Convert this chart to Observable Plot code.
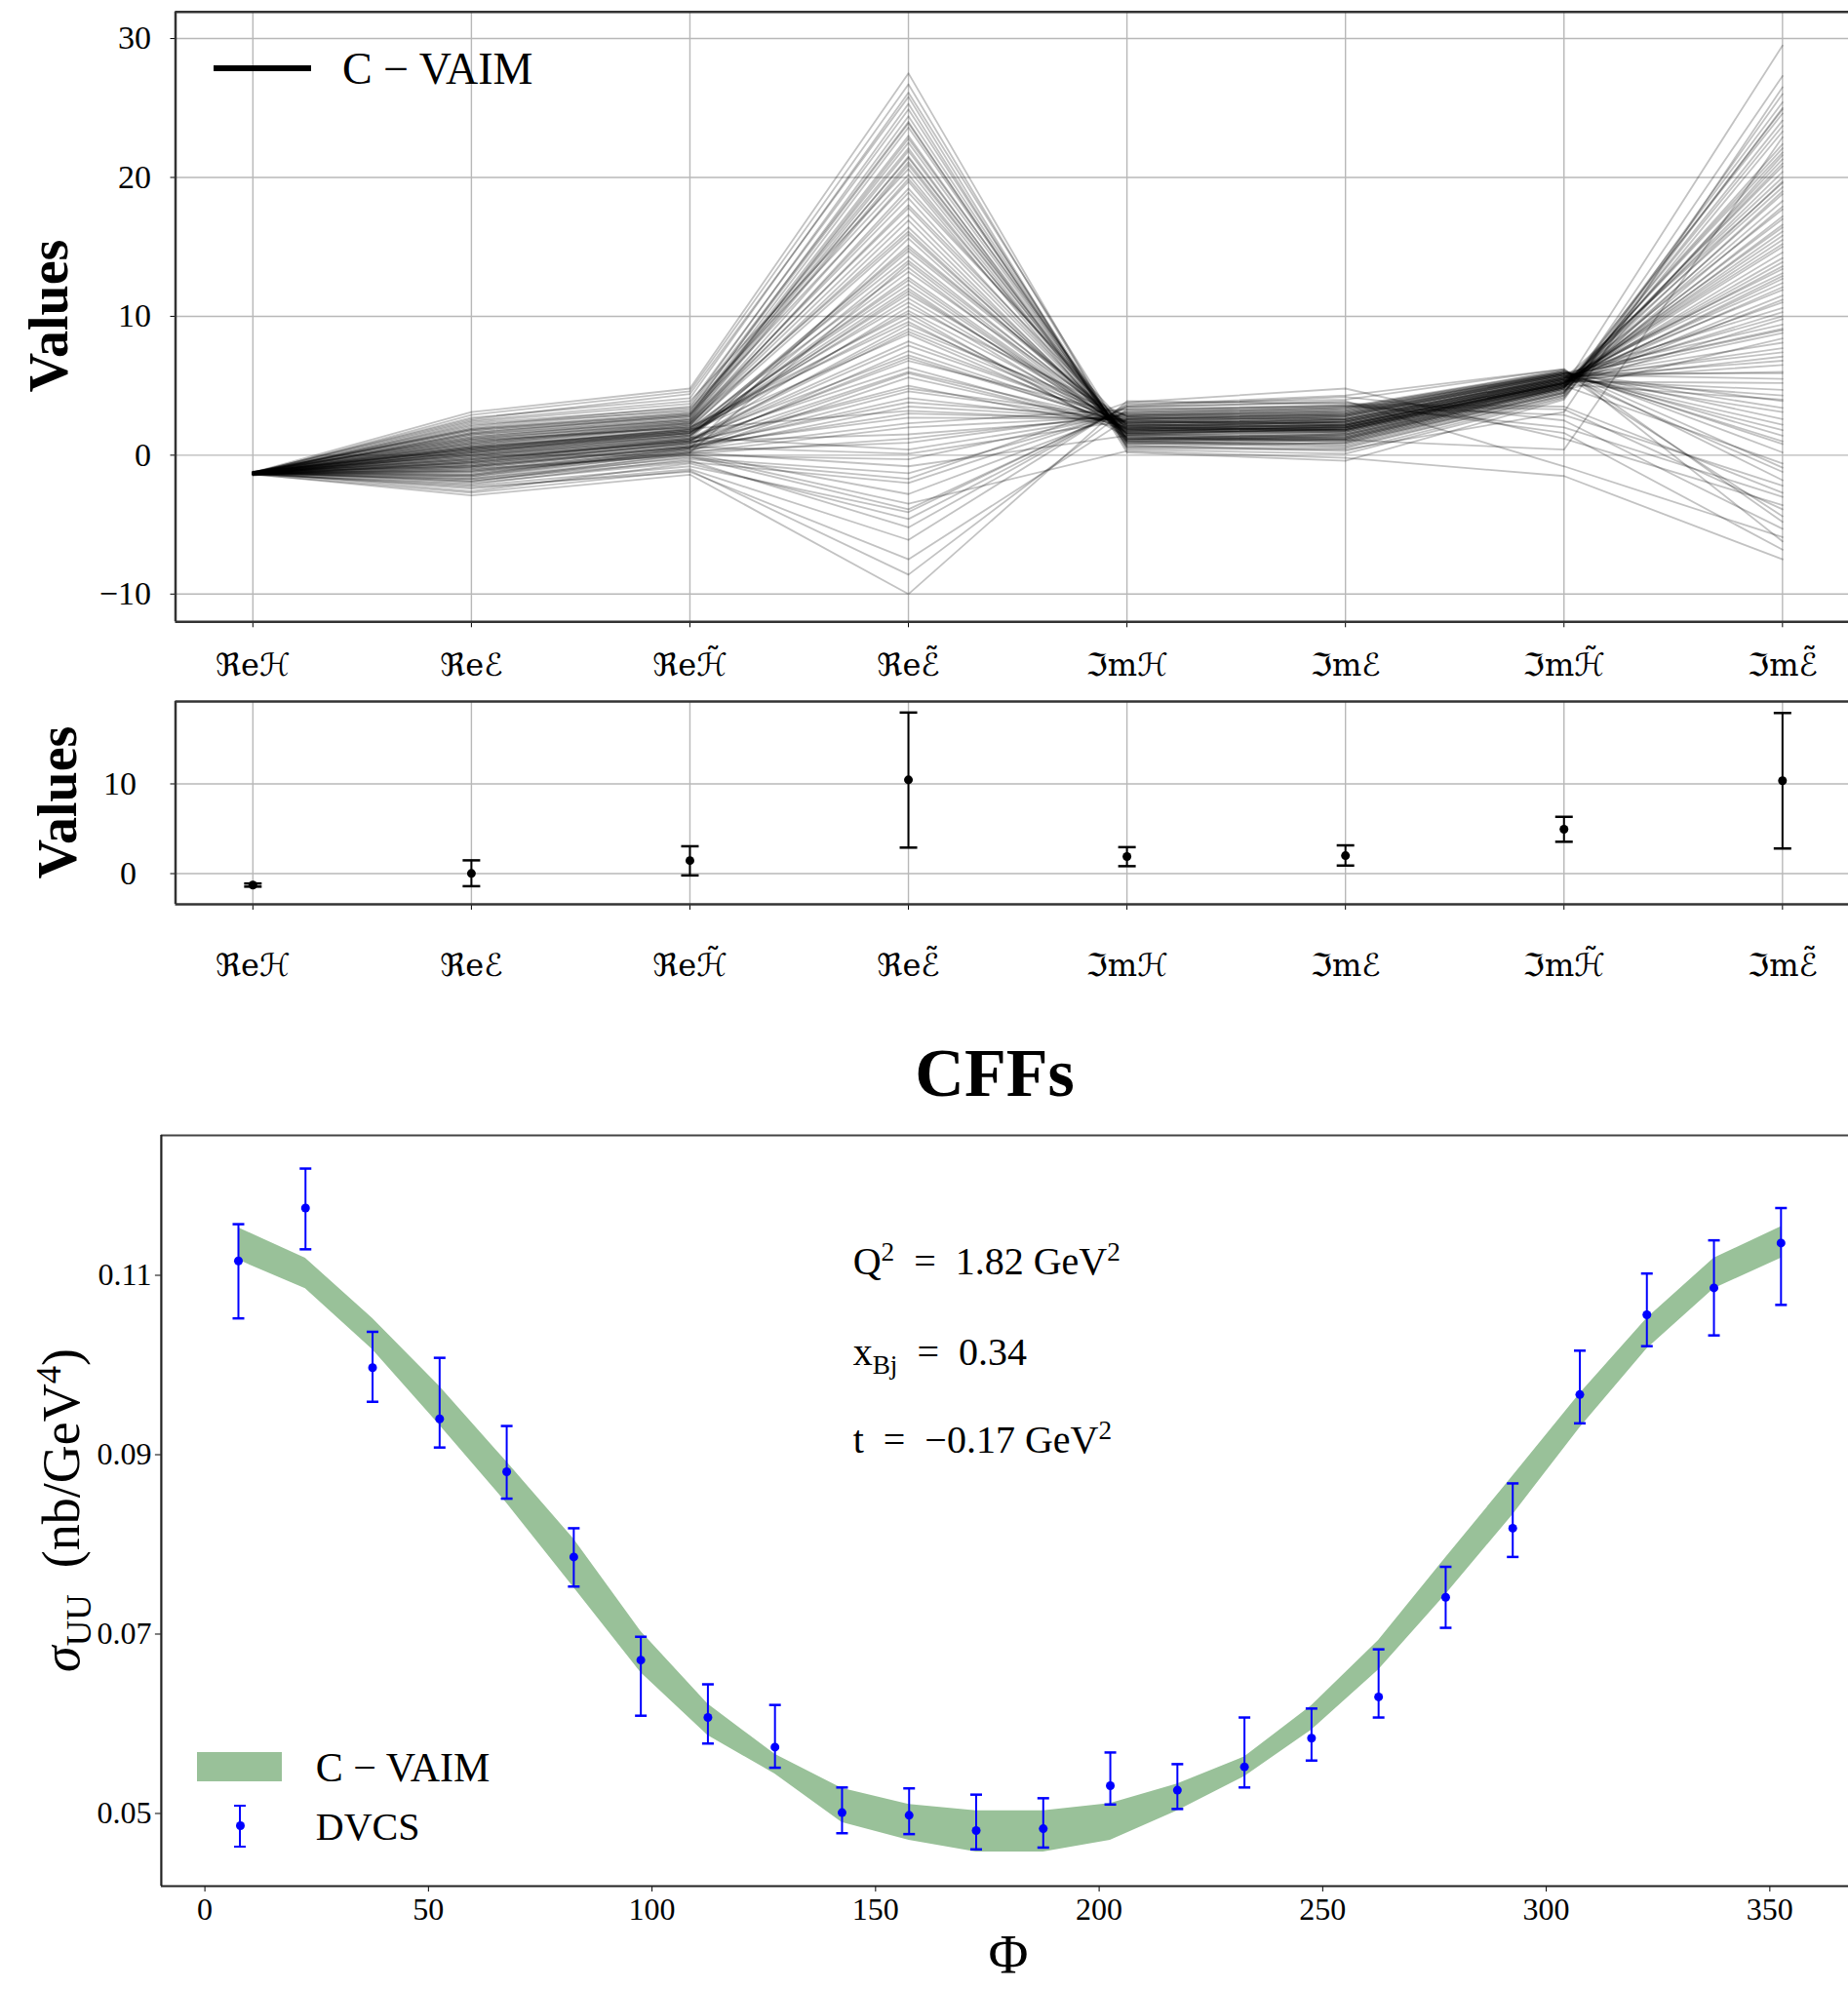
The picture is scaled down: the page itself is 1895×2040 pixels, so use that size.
<!DOCTYPE html>
<html><head><meta charset="utf-8">
<script src="https://cdn.jsdelivr.net/npm/d3@7"></script>
<script src="https://cdn.jsdelivr.net/npm/@observablehq/plot@0.6"></script>
<style>
html,body{margin:0;padding:0;background:#fff;}
#wrap{position:relative;width:1895px;height:2040px;overflow:hidden;background:#fff;font-family:"Liberation Serif",serif;color:#000;}
.abs{position:absolute;white-space:nowrap;line-height:1;}
.plot{position:absolute;left:0;}
#p1 text, #p2 text, #p3 text{font-family:"Liberation Serif",serif;}
#p1 g[aria-label="x-axis tick label"] text, #p2 g[aria-label="x-axis tick label"] text{font-family:"DejaVu Serif","DejaVu Sans",serif;}
sup,sub{line-height:0;font-size:0.68em;}
</style></head><body><div id="wrap"></div>
<script>
// ---------- categories ----------
const cats = ["\u211Ce\u210B","\u211Ce\u2130","\u211Ce\u210B\u0303","\u211Ce\u2130\u0303","\u2111m\u210B","\u2111m\u2130","\u2111m\u210B\u0303","\u2111m\u2130\u0303"];
const catIdx = [0,1,2,3,4,5,6,7];
const yTicksTop = [-10,0,10,20,30];
const yTicksMid = [0,10];

// ---------- C-VAIM samples, one array per CFF ----------
const reH = [-1.30,-1.25,-1.38,-1.22,-1.33,-1.41,-1.28,-1.19,-1.35,-1.27,
-1.31,-1.45,-1.24,-1.29,-1.36,-1.21,-1.32,-1.26,-1.39,-1.30,
-1.34,-1.23,-1.28,-1.37,-1.18,-1.33,-1.29,-1.42,-1.25,-1.31,
-1.27,-1.35,-1.30,-1.22,-1.40,-1.28,-1.33,-1.26,-1.31,-1.24,
-1.36,-1.29,-1.20,-1.34,-1.30,-1.27,-1.43,-1.25,-1.32,-1.28,
-1.30,-1.38,-1.23,-1.31,-1.26,-1.35,-1.29,-1.21,-1.33,-1.30,
-1.27,-1.40,-1.24,-1.32,-1.28,-1.36,-1.22,-1.30,-1.34,-1.26,
-1.31,-1.25,-1.39,-1.29,-1.33,-1.20,-1.28,-1.35,-1.27,-1.32,
-1.30,-1.24,-1.37,-1.28,-1.31,-1.44,-1.26,-1.33,-1.22,-1.29,
-1.34,-1.27,-1.30,-1.38,-1.25,-1.32,-1.28,-1.23,-1.36,-1.30];
const reE = [0.2,-0.8,1.5,-1.9,0.6,2.3,-0.3,-1.2,0.9,-2.6,
1.1,-0.5,0.0,1.8,-1.5,0.4,-2.1,2.7,-0.9,0.7,
-0.2,1.3,-1.7,0.5,-0.6,2.0,-1.1,0.1,3.1,-2.3,
0.8,-0.4,1.6,-1.4,0.3,-0.7,2.4,-1.8,1.0,-0.1,
-2.9,0.6,1.2,-1.0,0.2,1.9,-0.5,-1.6,0.9,-0.3,
1.4,-2.0,0.0,2.1,-0.8,0.5,-1.3,1.7,-0.2,0.8,
-1.9,0.3,2.6,-0.6,1.1,-1.2,0.4,-2.4,1.5,-0.4,
0.7,-1.5,0.1,2.2,-0.9,1.3,-0.1,-1.7,0.6,2.9,
-0.7,1.0,-2.2,0.2,1.6,-1.1,0.5,-0.3,1.9,-1.4,
0.0,2.5,-0.5,-2.7,1.2,-0.8,0.4,1.8,-1.0,0.3];
const reHt = [1.8,0.6,2.6,0.1,1.7,3.4,1.0,0.5,2.3,-0.6,
2.0,1.1,1.3,2.9,0.2,1.9,-0.3,4.1,0.6,2.1,
1.2,2.6,0.0,1.6,0.9,3.3,0.4,1.4,4.8,-1.2,
2.2,1.0,2.9,0.3,1.5,0.7,3.7,-0.4,2.0,1.3,
-1.4,1.8,2.4,0.5,1.4,3.0,0.9,0.2,2.2,1.1,
2.5,-0.5,1.2,3.5,0.7,1.9,0.3,2.8,1.0,2.1,
-0.1,1.6,4.4,0.8,2.4,0.1,1.7,-1.0,2.7,1.2,
2.0,0.4,1.5,3.2,0.6,2.5,1.1,-0.2,1.9,4.6,
0.9,2.3,-0.8,1.6,2.8,0.2,1.8,1.0,3.1,0.5,
1.4,3.9,0.8,-1.1,2.3,0.6,1.7,3.0,0.0,1.6];
const reEt = [12.3,4.1,21.5,-2.8,8.7,24.0,1.5,15.6,18.9,-4.6,
10.2,6.3,0.4,19.7,13.8,3.2,-1.7,26.1,7.5,16.4,
9.1,22.8,-3.5,11.6,5.0,20.2,2.3,14.7,27.5,-7.5,
17.3,7.9,23.6,0.9,12.8,3.8,24.9,-5.2,9.6,15.1,
-10.0,11.0,20.9,4.6,13.2,22.1,6.8,-0.8,18.0,8.2,
21.1,-2.0,14.0,25.3,2.7,16.9,5.6,23.0,10.7,19.2,
-3.9,12.0,25.8,6.0,17.8,1.2,9.9,-6.1,21.9,7.2,
15.9,3.5,11.3,23.9,0.1,18.5,8.9,-1.3,13.5,26.7,
4.8,19.9,-4.1,10.4,22.5,2.0,14.3,9.4,24.4,5.9,
11.8,20.6,7.0,-8.6,16.1,3.0,12.6,21.4,-0.3,14.9];
const imH = [1.8,2.4,1.2,3.1,1.9,0.6,2.7,1.5,2.1,3.5,
1.3,2.0,2.9,0.9,1.7,2.5,3.8,1.1,2.2,1.6,
2.8,1.4,0.3,2.3,1.9,1.0,3.3,2.1,0.5,2.6,
1.5,2.4,1.0,3.0,1.8,2.7,0.8,3.6,1.6,2.0,
3.9,1.7,1.2,2.5,2.2,0.7,2.9,1.4,1.9,2.3,
1.1,3.2,2.0,0.4,2.6,1.3,2.1,1.0,2.8,1.8,
3.4,1.6,0.2,2.4,1.5,2.9,1.9,3.7,1.2,2.2,
1.7,2.6,2.0,0.9,2.5,1.3,2.3,3.1,1.6,0.6,
2.7,1.4,3.5,2.1,1.1,2.8,1.8,2.4,0.8,2.0,
1.9,1.0,2.3,3.3,1.5,2.6,1.7,1.2,3.0,2.2];
const imE = [2.0,2.3,1.5,3.4,1.7,0.9,2.6,1.9,2.4,4.2,
1.1,2.4,3.3,0.6,2.0,2.3,4.8,1.4,2.1,1.9,
3.1,1.2,-0.2,2.6,2.2,1.3,3.5,1.8,0.4,3.0,
1.7,2.8,0.7,3.3,1.6,2.9,1.1,4.3,1.9,2.2,
3.7,2.0,1.0,2.8,2.5,0.3,3.2,1.6,2.1,2.6,
1.4,3.6,1.8,0.1,2.9,1.5,2.4,0.8,3.0,2.1,
3.9,1.8,-0.4,2.2,1.9,3.1,2.2,4.0,1.0,2.5,
2.0,2.9,2.3,1.2,2.7,1.1,2.6,3.5,1.8,0.5,
3.0,1.7,3.8,2.4,1.3,3.2,2.0,2.7,0.9,1.8,
2.2,1.2,2.5,3.6,1.3,2.8,2.1,1.5,3.4,2.0];
const imHt = [5.2,5.4,4.9,6.0,5.0,4.5,5.6,5.1,5.5,2.5,
4.7,5.5,5.9,4.3,5.2,5.3,1.2,4.9,5.3,5.2,
5.8,4.8,-1.5,5.6,5.4,4.9,6.1,5.1,3.1,5.8,
5.0,5.7,4.4,6.0,5.0,5.7,0.4,6.2,5.2,5.3,
3.5,5.2,4.6,5.8,5.5,4.2,5.9,5.0,5.3,5.6,
4.9,2.0,5.1,4.1,5.8,4.9,5.5,4.5,5.9,5.3,
-0.8,5.1,4.0,5.4,5.2,6.0,5.4,6.2,4.6,5.6,
5.2,5.9,5.5,4.8,5.7,4.7,5.6,2.9,5.1,4.3,
5.9,5.0,1.6,5.5,4.8,6.0,5.2,5.7,4.5,5.1,
5.4,4.8,5.6,3.3,4.9,5.8,5.3,5.0,6.1,5.2];
const imEt = [14.2,6.5,22.1,-1.8,9.8,25.4,3.1,17.0,11.9,-5.3,
8.4,19.6,1.0,23.3,12.7,5.2,-3.6,29.5,7.1,15.8,
10.6,21.0,-7.5,13.4,4.3,18.3,0.2,16.1,26.5,-4.4,
20.4,9.0,24.1,2.6,11.2,6.0,22.9,-6.2,13.9,17.7,
-2.7,12.1,19.0,5.5,8.8,21.6,3.9,-0.6,15.2,10.0,
18.8,-3.0,12.9,25.0,1.8,16.6,7.7,23.7,9.4,20.0,
-5.9,11.5,26.0,4.7,19.3,0.8,10.3,-4.8,21.3,6.8,
16.4,3.4,13.1,24.6,-1.2,17.9,8.1,-2.2,14.6,27.3,
5.9,20.8,-6.8,11.0,22.4,1.4,15.5,9.1,24.9,4.0,
12.4,19.7,7.4,-3.9,17.2,2.2,13.6,21.8,-0.9,15.0];

// ---------- CFF mean and error bars ----------
const cffMean = [-1.28, 0.02, 1.45, 10.45, 1.90, 2.00, 4.95, 10.35];
const cffLo   = [-1.45, -1.40, -0.20, 2.90, 0.83, 0.90, 3.55, 2.80];
const cffHi   = [-1.10, 1.48, 3.05, 17.95, 2.95, 3.15, 6.33, 17.90];

// ---------- cross section ----------
const phi = [7.5,22.5,37.5,52.5,67.5,82.5,97.5,112.5,127.5,142.5,157.5,172.5,187.5,202.5,217.5,232.5,247.5,262.5,277.5,292.5,307.5,322.5,337.5,352.5];
const bandHi = [0.1153,0.1119,0.1052,0.0976,0.0892,0.0806,0.0703,0.0622,0.0566,0.0528,0.0510,0.0503,0.0503,0.0511,0.0533,0.0563,0.0620,0.0693,0.0785,0.0876,0.0968,0.1052,0.1119,0.1154];
const bandLo = [0.1117,0.1085,0.1017,0.0933,0.0846,0.0752,0.0657,0.0587,0.0544,0.0490,0.0470,0.0457,0.0457,0.0470,0.0503,0.0541,0.0593,0.0660,0.0744,0.0833,0.0930,0.1018,0.1085,0.1119];
const dvcs   = [0.1116,0.1175,0.0997,0.0940,0.0881,0.0786,0.0671,0.0607,0.0574,0.0501,0.0498,0.0481,0.0483,0.0531,0.0526,0.0552,0.0584,0.0630,0.0741,0.0818,0.0967,0.1056,0.1086,0.1136];
const dvcsHi = [0.1157,0.1219,0.1037,0.1008,0.0932,0.0818,0.0697,0.0644,0.0621,0.0529,0.0528,0.0521,0.0517,0.0568,0.0555,0.0607,0.0617,0.0683,0.0775,0.0868,0.1016,0.1102,0.1139,0.1175];
const dvcsLo = [0.1052,0.1129,0.0959,0.0908,0.0851,0.0753,0.0609,0.0578,0.0551,0.0478,0.0477,0.0460,0.0462,0.0510,0.0505,0.0529,0.0559,0.0607,0.0707,0.0786,0.0935,0.1021,0.1033,0.1067];
const xTicksBot = [0,50,100,150,200,250,300,350];
const yTicksBot = [0.05,0.07,0.09,0.11];

// ---------- build tables ----------
const series = [reH, reE, reHt, reEt, imH, imE, imHt, imEt];
const N = Math.min(...series.map(s => s.length));
const lines = [];
for (let i = 0; i < N; i++) for (let k = 0; k < 8; k++) lines.push({id: i, k, v: series[k][i]});
const cff = catIdx.map(k => ({k, m: cffMean[k], lo: cffLo[k], hi: cffHi[k]}));
const band = phi.map((p, i) => ({phi: p, lo: bandLo[i], hi: bandHi[i]}));
const pts = phi.map((p, i) => ({phi: p, v: dvcs[i], lo: dvcsLo[i], hi: dvcsHi[i]}));

const cap = {draw(ctx, size) { const r = Math.sqrt(size / Math.PI); ctx.moveTo(-r, 0); ctx.lineTo(r, 0); }};
const gridStyle = {stroke: "#b8b8b8", strokeWidth: 1.4};
const frameStyle = {stroke: "#333", strokeWidth: 2.5};
const xDomTop = [-0.354, 7.302];
const serif = '"Liberation Serif", serif';

const wrap = document.getElementById("wrap");
function place(svg, id, top) {
  svg.id = id; svg.classList.add("plot"); svg.style.top = top + "px"; svg.style.position = "absolute";
  wrap.appendChild(svg);
}

// ---------- top panel ----------
const yDomTop = [-12.0, 31.92];
const p1 = Plot.plot({
  width: 1895, height: 700,
  marginLeft: 179.5, marginRight: 0, marginTop: 11.7, marginBottom: 62.7,
  style: {fontFamily: serif, fontSize: "34px", background: "white", color: "black"},
  x: {domain: xDomTop, label: null},
  y: {domain: yDomTop, label: null},
  marks: [
    Plot.ruleX(catIdx, gridStyle),
    Plot.ruleY(yTicksTop, gridStyle),
    Plot.line(lines, {x: "k", y: "v", z: "id", stroke: "black", strokeOpacity: 0.24, strokeWidth: 1.8}),
    Plot.axisX({ticks: catIdx, tickFormat: i => cats[i], tickSize: 6, tickPadding: 26, label: null, fontSize: 32}),
    Plot.axisY({ticks: yTicksTop, tickSize: 5, tickPadding: 20, label: null}),
    Plot.ruleY([yDomTop[0]], frameStyle),
    Plot.ruleY([yDomTop[1]], frameStyle),
    Plot.ruleX([xDomTop[0]], frameStyle)
  ]
});
place(p1, "p1", 0);

// ---------- middle panel ----------
const yDomMid = [-3.42, 19.18];
const p2 = Plot.plot({
  width: 1895, height: 340,
  marginLeft: 179.5, marginRight: 0, marginTop: 19, marginBottom: 113,
  style: {fontFamily: serif, fontSize: "34px", background: "white", color: "black"},
  x: {domain: xDomTop, label: null},
  y: {domain: yDomMid, label: null},
  marks: [
    Plot.ruleX(catIdx, gridStyle),
    Plot.ruleY(yTicksMid, gridStyle),
    Plot.ruleX(cff, {x: "k", y1: "lo", y2: "hi", stroke: "black", strokeWidth: 2}),
    Plot.dot(cff, {x: "k", y: "lo", symbol: cap, r: 9, stroke: "black", strokeWidth: 2.5}),
    Plot.dot(cff, {x: "k", y: "hi", symbol: cap, r: 9, stroke: "black", strokeWidth: 2.5}),
    Plot.dot(cff, {x: "k", y: "m", r: 4.5, fill: "black"}),
    Plot.axisX({ticks: catIdx, tickFormat: i => cats[i], tickSize: 6, tickPadding: 45, label: null, fontSize: 32}),
    Plot.axisY({ticks: yTicksMid, tickSize: 5, tickPadding: 35, label: null}),
    Plot.ruleY([yDomMid[0]], frameStyle),
    Plot.ruleY([yDomMid[1]], frameStyle),
    Plot.ruleX([xDomTop[0]], frameStyle)
  ]
});
place(p2, "p2", 700);

// ---------- bottom panel ----------
const xDomBot = [-9.75, 369.75];
const yDomBot = [0.0419, 0.1256];
const p3 = Plot.plot({
  width: 1895, height: 900,
  marginLeft: 164.9, marginRight: 0, marginTop: 24, marginBottom: 106,
  style: {fontFamily: serif, fontSize: "32px", background: "white", color: "black"},
  x: {domain: xDomBot, range: [164.9, 1904.9], label: null},
  y: {domain: yDomBot, label: null},
  marks: [
    Plot.areaY(band, {x: "phi", y1: "lo", y2: "hi", fill: "#99c199"}),
    Plot.ruleX(pts, {x: "phi", y1: "lo", y2: "hi", stroke: "#0000ff", strokeWidth: 2}),
    Plot.dot(pts, {x: "phi", y: "lo", symbol: cap, r: 6, stroke: "#0000ff", strokeWidth: 2.5}),
    Plot.dot(pts, {x: "phi", y: "hi", symbol: cap, r: 6, stroke: "#0000ff", strokeWidth: 2.5}),
    Plot.dot(pts, {x: "phi", y: "v", r: 4.5, fill: "#0000ff"}),
    Plot.axisX({ticks: xTicksBot, tickSize: 6, tickPadding: 6, label: null}),
    Plot.axisY({ticks: yTicksBot, tickFormat: d3.format(".2f"), tickSize: 6, tickPadding: 4, label: null}),
    Plot.ruleY([yDomBot[0]], {stroke: "#222", strokeWidth: 2.2}),
    Plot.ruleY([yDomBot[1]], {stroke: "#444", strokeWidth: 2.2}),
    Plot.ruleX([xDomBot[0]], {stroke: "#222", strokeWidth: 2.2})
  ]
});
place(p3, "p3", 1140);

// ---------- HTML text & legends ----------
function txt(html, o) {
  const d = document.createElement("div");
  d.className = "abs";
  d.innerHTML = html;
  d.style.fontSize = o.size + "px";
  if (o.weight) d.style.fontWeight = o.weight;
  if (o.family) d.style.fontFamily = o.family;
  if (o.center) {
    d.style.left = o.x + "px"; d.style.top = o.y + "px";
    d.style.transform = "translate(-50%,-50%)" + (o.rotate ? " rotate(" + o.rotate + "deg)" : "");
  } else {
    d.style.left = o.x + "px";
    d.style.top = (o.baseline - 0.8375 * o.size) + "px";
  }
  wrap.appendChild(d);
  return d;
}
function box(x, y, w, h, color) {
  const d = document.createElement("div");
  d.style.cssText = `position:absolute;left:${x}px;top:${y}px;width:${w}px;height:${h}px;background:${color};`;
  wrap.appendChild(d);
  return d;
}

// top legend
box(218.75, 67.4, 100.5, 6, "#000");
txt("C − VAIM", {x: 351, baseline: 87, size: 46});
// y labels
txt("Values", {x: 49.5, y: 323.5, size: 56, weight: "bold", center: true, rotate: -90});
txt("Values", {x: 58.5, y: 822.6, size: 56, weight: "bold", center: true, rotate: -90});
// CFFs
txt("CFFs", {x: 1020, y: 1101, size: 70, weight: "bold", center: true});
// annotations
txt("Q<sup>2</sup>&ensp;=&ensp;1.82 GeV<sup>2</sup>", {x: 874.7, baseline: 1307.8, size: 40});
txt("x<sub>Bj</sub>&ensp;=&ensp;0.34", {x: 874.7, baseline: 1400.3, size: 40});
txt("t&ensp;=&ensp;−0.17 GeV<sup>2</sup>", {x: 874.7, baseline: 1490.8, size: 40});
// bottom legend
box(202, 1797, 87.4, 29.7, "#99c199");
txt("C − VAIM", {x: 323.8, baseline: 1826.7, size: 42});
box(245, 1851.5, 2, 42.3, "#0000ff");
box(240, 1850.5, 12, 2.5, "#0000ff");
box(240, 1892.5, 12, 2.5, "#0000ff");
const dot = box(241.5, 1868, 9, 9, "#0000ff"); dot.style.borderRadius = "50%";
txt("DVCS", {x: 323.8, baseline: 1887.4, size: 40});
// bottom axis labels
txt("<i>σ</i><sub>UU</sub>&nbsp;&nbsp;(nb/GeV<sup>4</sup>)", {x: 63, y: 1549, size: 54, center: true, rotate: -90});
txt("Φ", {x: 1034, y: 2005, size: 56, center: true});
</script></body></html>
